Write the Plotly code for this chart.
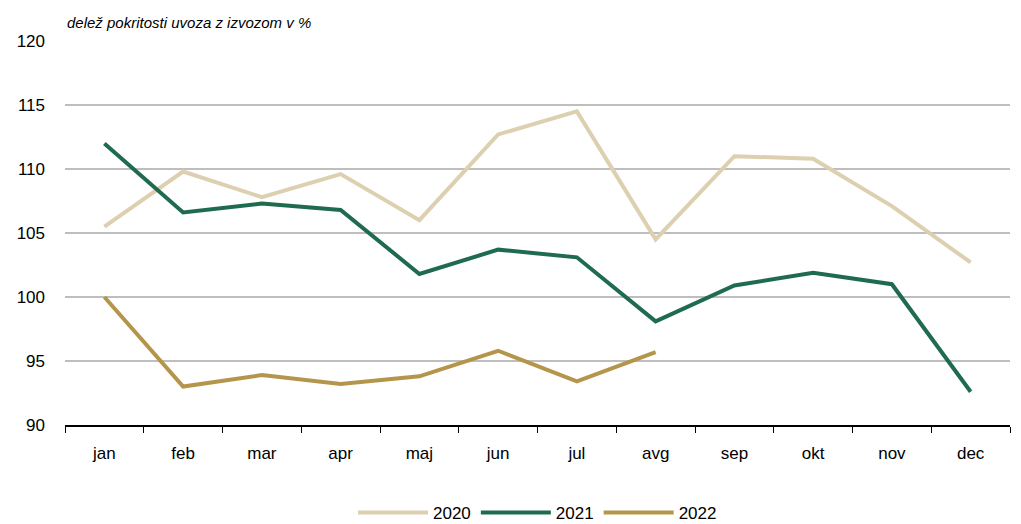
import plotly.graph_objects as go

months = ["jan", "feb", "mar", "apr", "maj", "jun", "jul", "avg", "sep", "okt", "nov", "dec"]
y2020 = [105.5, 109.8, 107.8, 109.6, 106.0, 112.7, 114.5, 104.5, 111.0, 110.8, 107.1, 102.7]
y2021 = [112.0, 106.6, 107.3, 106.8, 101.8, 103.7, 103.1, 98.1, 100.9, 101.9, 101.0, 92.6]
y2022 = [100.0, 93.0, 93.9, 93.2, 93.8, 95.8, 93.4, 95.7]
series = [("2020", y2020, "#DDD0B0"), ("2021", y2021, "#1F6B4F"), ("2022", y2022, "#B5954B")]
yticks = [90, 95, 100, 105, 110, 115, 120]
title = "delež pokritosti uvoza z izvozom v %"
FONT = "Liberation Sans Narrow, Arial Narrow, Liberation Sans, sans-serif"

fig = go.Figure()
for name, vals, col in series:
    fig.add_trace(go.Scatter(x=months[:len(vals)], y=vals, name=name, mode="lines",
                             line=dict(color=col, width=4)))

fig.update_layout(
    width=1021, height=524,
    margin=dict(l=65, r=11, t=41, b=99, autoexpand=False),
    paper_bgcolor="white", plot_bgcolor="white",
    font=dict(family=FONT, size=17, color="#000"),
    showlegend=True,
    legend=dict(orientation="h", x=0.5, xanchor="center", y=-0.182, yanchor="top",
                font=dict(size=17), itemwidth=70, traceorder="normal"),
    xaxis=dict(type="category", categoryarray=months, showline=True, linecolor="#000", linewidth=1.5,
               ticks="outside", tickson="boundaries", ticklen=6, tickcolor="#000",
               showgrid=False, tickfont=dict(size=17), range=[-0.5, 11.5],
               ticklabelstandoff=12, automargin=False),
    yaxis=dict(range=[90, 120], tickvals=yticks, showgrid=True, gridcolor="#BEBEBE", gridwidth=1.5,
               zeroline=False, showline=False, ticks="", tickfont=dict(size=17),
               ticklabelstandoff=19, automargin=False),
    annotations=[dict(text="<i>" + title + "</i>", x=0, xref="paper", y=1, yref="paper",
                      xanchor="left", yanchor="bottom", yshift=8, showarrow=False,
                      font=dict(size=15, family=FONT))],
)
fig.write_html("out.html", config={"displayModeBar": False},
               post_script="document.body.style.margin='0';document.body.style.overflow='hidden';")
